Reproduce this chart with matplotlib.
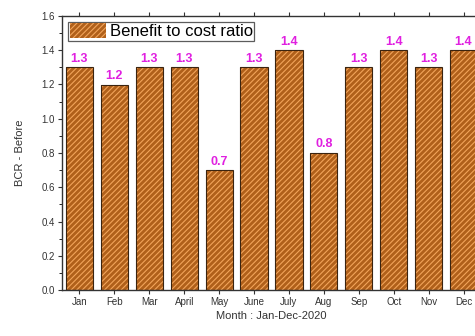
import matplotlib.pyplot as plt
import numpy as np

plt.rcParams['font.family'] = ['Liberation Sans', 'DejaVu Sans']
plt.rcParams['hatch.linewidth'] = 0.8

months = ['Jan', 'Feb', 'Mar', 'April', 'May', 'June', 'July', 'Aug',
          'Sep', 'Oct', 'Nov', 'Dec']
bcr = [1.3, 1.2, 1.3, 1.3, 0.7, 1.3, 1.4, 0.8, 1.3, 1.4, 1.3, 1.4]

fig = plt.figure(figsize=(4.75, 3.36), dpi=100)
# axes run past the right edge, the reference is cropped there
ax = fig.add_axes([62 / 475, 1 - 290 / 336, (481 - 62) / 475, (290 - 16) / 336])

x = np.arange(len(months))
# fill + light hatch, then dark outline on top
ax.bar(x, bcr, width=0.78, color='#b0601a', edgecolor='#f2a45a',
       hatch='//////', linewidth=0, label='Benefit to cost ratio')
ax.bar(x, bcr, width=0.78, color='none', edgecolor='#3a2410', linewidth=0.8)

for xi, v in zip(x, bcr):
    ax.text(xi, v + 0.015, f'{v:.1f}', ha='center', va='bottom',
            color='#e020e0', fontsize=9, fontweight='bold')

ax.set_xlim(-0.5, 11.5)
ax.set_ylim(0, 1.6)
ax.set_yticks(np.arange(0, 1.61, 0.2))
ax.set_yticks(np.arange(0.1, 1.6, 0.2), minor=True)
ax.set_xticks(x)
ax.set_xticklabels(months)
ax.tick_params(axis='both', labelsize=7, direction='out', length=3,
               width=0.8, color='#333333', labelcolor='#333333')
ax.tick_params(axis='y', which='minor', length=2, width=0.6)
ax.tick_params(axis='x', top=True, pad=2)
ax.tick_params(axis='y', pad=2)
for s in ax.spines.values():
    s.set_linewidth(1.0)
    s.set_color('#333333')

ax.set_ylabel('BCR - Before', fontsize=8, color='#333333', labelpad=12)
ax.set_xlabel('Month : Jan-Dec-2020', fontsize=8, color='#333333', labelpad=3)

leg = ax.legend(loc='upper left', fontsize=12, frameon=True, fancybox=False,
                borderpad=0.1, handlelength=2.2, handleheight=0.95,
                handletextpad=0.2, borderaxespad=0.35)
leg.get_frame().set_edgecolor('#333333')
leg.get_frame().set_linewidth(0.9)
for h in leg.legend_handles:
    h.set_edgecolor('#f2a45a')

fig.savefig('out.png', dpi=100)
